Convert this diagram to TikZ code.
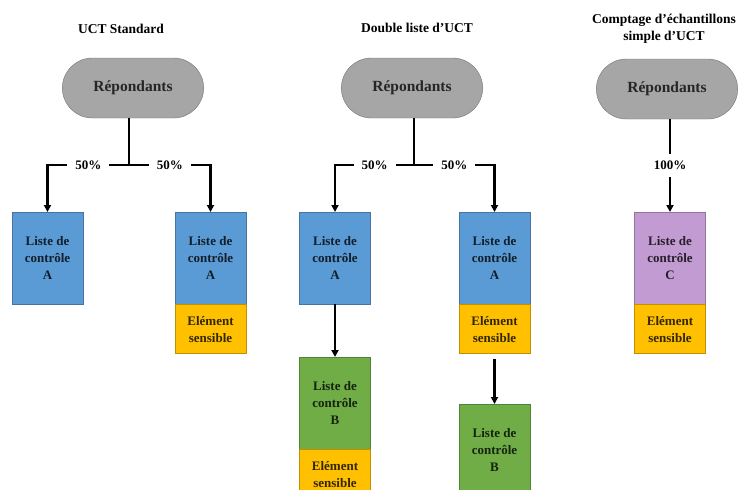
\documentclass[tikz,border=0pt]{standalone}
\usepackage{fontspec}
\setmainfont{Liberation Serif}
\usepackage{xcolor}
\usetikzlibrary{arrows.meta, shapes.misc}

\definecolor{pillgrey}{HTML}{A6A6A6}
\definecolor{listblue}{HTML}{5B9BD5}
\definecolor{listgreen}{HTML}{70AD47}
\definecolor{listpurple}{HTML}{C39BD3}
\definecolor{sensorange}{HTML}{FFC000}

\tikzset{
    heading/.style={font=\bfseries\fontsize{13.5}{17}\selectfont, align=center},
    pill/.style={rounded rectangle, fill=pillgrey, draw=pillgrey!70!black, minimum width=148pt, minimum height=60pt, font=\bfseries\fontsize{15.5}{18}\selectfont, text=black!85},
    listbox/.style={draw=#1!75!black, fill=#1, minimum width=71pt, minimum height=92pt, anchor=north, align=center, inner sep=0pt, font=\bfseries\fontsize{13}{17}\selectfont, text=#1!20!black},
    sensbox/.style={draw=sensorange!75!black, fill=sensorange, minimum width=71pt, minimum height=49pt, anchor=north, align=center, inner sep=0pt, font=\bfseries\fontsize{13}{17}\selectfont, text=sensorange!20!black},
    pct/.style={fill=white, inner xsep=8pt, inner ysep=7pt, font=\bfseries\fontsize{13}{15}\selectfont},
    conn/.style={line width=2.6pt, -{Triangle[length=7pt, width=7pt]}},
    stem/.style={line width=2.6pt}
}

\begin{document}
\begin{tikzpicture}[x=1pt, y=-1pt]

    \useasboundingbox (0,0) rectangle (742,490);
    \clip (0,0) rectangle (742,490);

    % --- UCT STANDARD ---
    \node[heading] (t1) at (121,29) {UCT Standard};
    \node[pill] (rep1) at (133,88) {Répondants};
    \coordinate (j1) at (129,165);
    \node[listbox=listblue] (a1) at (47.5,212) {Liste de\\contrôle\\A};
    \node[listbox=listblue] (a2) at (210.5,212) {Liste de\\contrôle\\A};
    \node[sensbox] (s2) at (a2.south) {Elément\\sensible};
    \draw[stem] (j1 |- rep1.south) -- (j1);
    \draw[conn] (j1) -| node[pct, pos=0.25] {50\%} (a1.north);
    \draw[conn] (j1) -| node[pct, pos=0.25] {50\%} (a2.north);

    % --- DOUBLE LISTE ---
    \node[heading] (t2) at (417,28) {Double liste d’UCT};
    \node[pill] (rep2) at (412,88) {Répondants};
    \coordinate (j2) at (414,165);
    \node[listbox=listblue] (a3) at (335,212) {Liste de\\contrôle\\A};
    \node[listbox=listgreen] (b3) at (335,357) {Liste de\\contrôle\\B};
    \node[sensbox] (s3) at (b3.south) {Elément\\sensible};
    \node[listbox=listblue] (a4) at (494.5,212) {Liste de\\contrôle\\A};
    \node[sensbox] (s4) at (a4.south) {Elément\\sensible};
    \node[listbox=listgreen] (b4) at (494.5,404) {Liste de\\contrôle\\B};
    \draw[stem] (j2 |- rep2.south) -- (j2);
    \draw[conn] (j2) -| node[pct, pos=0.25] {50\%} (a3.north);
    \draw[conn] (j2) -| node[pct, pos=0.25] {50\%} (a4.north);
    \draw[conn] (a3.south) -- (b3.north);
    \draw[conn] ([yshift=-5pt]s4.south) -- (b4.north);

    % --- COMPTAGE SIMPLE ---
    \node[heading] (t3) at (664,29) {Comptage d’échantillons\\simple d’UCT};
    \node[pill] (rep3) at (667,89) {Répondants};
    \node[listbox=listpurple] (c5) at (670,212) {Liste de\\contrôle\\C};
    \node[sensbox] (s5) at (c5.south) {Elément\\sensible};
    \draw[conn] (c5.north |- rep3.south) -- node[pct] {100\%} (c5.north);

\end{tikzpicture}
\end{document}
